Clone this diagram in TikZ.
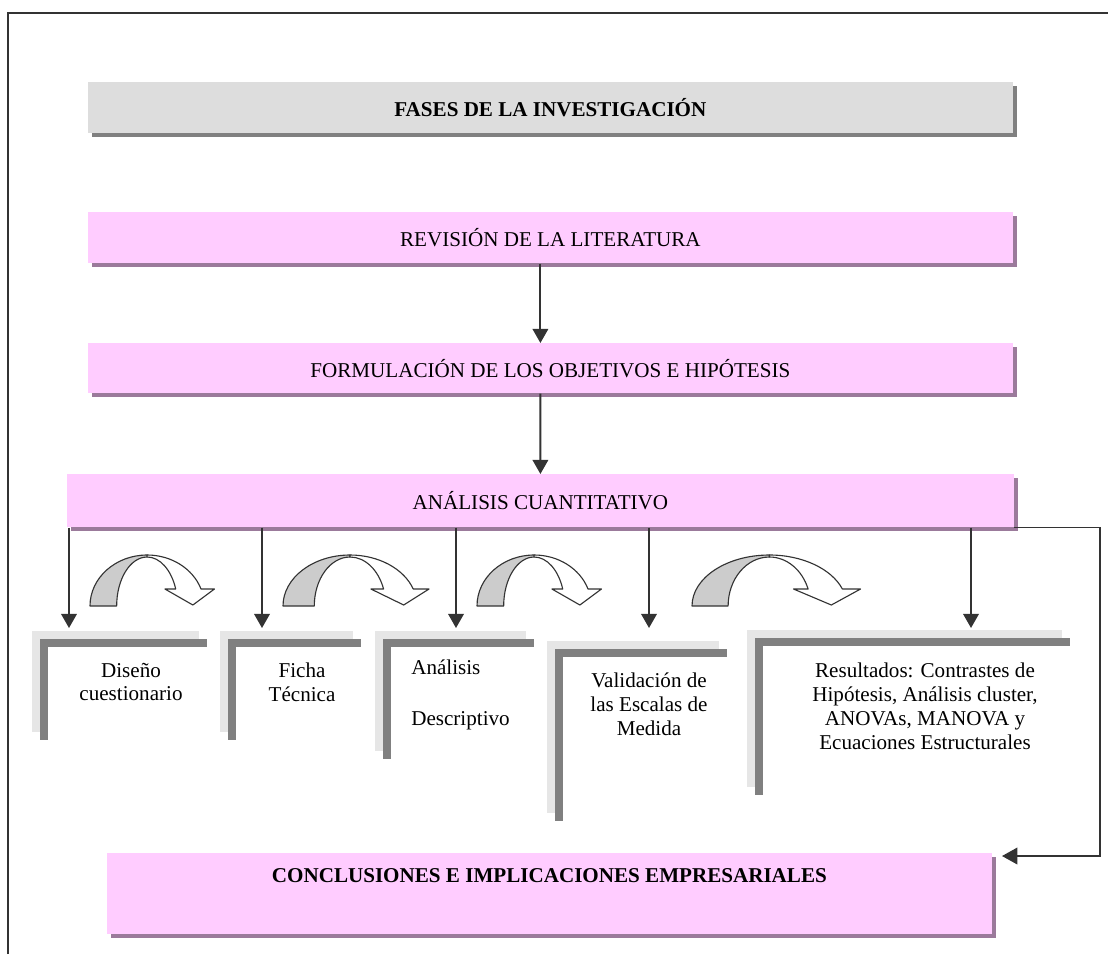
\documentclass[tikz,border=0pt]{standalone}
\usepackage{fontspec}
\setmainfont{Liberation Serif}
\usepackage{tikz}
\usetikzlibrary{arrows.meta,shadows}
\definecolor{rosa}{RGB}{255,204,255}
\definecolor{sombrarosa}{RGB}{155,122,155}
\definecolor{grisfondo}{RGB}{221,221,221}
\definecolor{grissombra}{RGB}{128,128,128}
\definecolor{grisclaro}{RGB}{204,204,204}
\definecolor{grismarco}{RGB}{230,230,230}
\definecolor{trazo}{RGB}{51,51,51}

\begin{document}
\begin{tikzpicture}[x=0.025cm, y=-0.025cm,
  caja/.style={fill=rosa, anchor=north west, inner sep=0pt,
    font=\fontsize{15}{17}\selectfont,
    drop shadow={shadow xshift=0.1cm, shadow yshift=-0.1cm, fill=sombrarosa, opacity=1}},
  cajagris/.style={caja, fill=grisfondo, font=\fontsize{15}{17}\selectfont\bfseries,
    drop shadow={shadow xshift=0.1cm, shadow yshift=-0.1cm, fill=grissombra, opacity=1}},
  texto/.style={align=center, inner sep=0pt, font=\fontsize{15}{17}\selectfont},
  flecha/.style={draw=trazo, line width=1.4pt, -{Triangle[width=11pt,length=10pt]}},
  conector/.style={draw=trazo, line width=0.9pt, -{Triangle[width=12pt,length=11pt]}},
  curva/.style={draw=trazo, line width=0.8pt, line join=round}]

  \useasboundingbox (0,0) rectangle (1108,954);

  % Marco exterior
  \draw[trazo, line width=1.1pt] (8,954) -- (8,13) -- (1108,13);

  % Cajas principales
  \node[cajagris, minimum width=23.1cm, minimum height=1.275cm] (titulo) at (88,82)
    {FASES DE LA INVESTIGACIÓN};
  \node[caja, minimum width=23.1cm, minimum height=1.275cm] (revision) at (88,212)
    {REVISIÓN DE LA LITERATURA};
  \node[caja, minimum width=23.1cm, minimum height=1.25cm] (formulacion) at (88,343)
    {FORMULACIÓN DE LOS OBJETIVOS E HIPÓTESIS};
  \node[caja, minimum width=23.65cm, minimum height=1.325cm] (analisis) at (67,474)
    {ANÁLISIS CUANTITATIVO};
  \node[caja, minimum width=22.1cm, text height=0.725cm, text depth=1.3cm,
    font=\fontsize{15}{17}\selectfont\bfseries] (conclusiones) at (107,853)
    {CONCLUSIONES E IMPLICACIONES EMPRESARIALES};

  % Flechas verticales
  \draw[flecha] ([xshift=-0.25cm]revision.south) -- ([xshift=-0.25cm]formulacion.north);
  \draw[flecha] ([xshift=-0.25cm]formulacion.south) -- (analisis.north);

  % Marcos de las etapas
  \foreach \xa/\ya/\xb/\yb in {32/631/199/732, 220/631/353/732, 375/631/526/751,
                               547/641/719/813, 747/630/1062/787} {
    \fill[grismarco] (\xa,\ya) rectangle (\xb,{\ya+8});
    \fill[grismarco] (\xa,\ya) rectangle ({\xa+8},\yb);
    \fill[grissombra] ({\xa+8},{\ya+8}) rectangle ({\xb+8},{\ya+16});
    \fill[grissombra] ({\xa+8},{\ya+8}) rectangle ({\xa+16},{\yb+8});
  }

  % Etapas
  \node[texto] (diseno) at (131,682) {Diseño\\cuestionario};
  \node[texto] (ficha) at (302,682) {Ficha\\Técnica};
  \node[texto, align=left, anchor=west] (descriptivo) at (411,695)
    {Análisis\\[0.68cm]Descriptivo};
  \node[texto] (validacion) at (649,704) {Validación de\\las Escalas de\\Medida};
  \node[texto] (resultados) at (925,706)
    {Resultados: Contrastes de\\Hipótesis, Análisis cluster,\\ANOVAs, MANOVA y\\Ecuaciones Estructurales};

  % Flechas hacia las etapas
  \coordinate (p1) at (69,628);
  \coordinate (p2) at (262,628);
  \coordinate (p3) at (456,628);
  \coordinate (p4) at (649,628);
  \coordinate (p5) at (971,628);
  \foreach \p in {p1,p2,p3,p4,p5}
    \draw[flecha] (\p |- analisis.south) -- (\p);

  % Flechas curvas entre etapas
  \foreach \xa/\an in {90/127, 283/149, 477/127, 692/172} {
    \pgfmathsetmacro{\cx}{\xa+0.45*\an}
    \filldraw[curva, fill=grisclaro] (\xa,606)
      arc[start angle=180, end angle=270, x radius={0.45*\an}, y radius=51]
      -- ++(0,2)
      arc[start angle=270, end angle=180, x radius={0.24*\an}, y radius=49] -- cycle;
    \filldraw[curva, fill=white] (\cx,555)
      arc[start angle=270, end angle=340.5, x radius={0.45*\an}, y radius=51]
      -- ({\xa+0.98*\an},589) -- ({\xa+0.81*\an},605) -- ({\xa+0.59*\an},589)
      -- ({\xa+0.675*\an},589)
      arc[start angle=339.7, end angle=270, x radius={0.24*\an}, y radius=49] -- cycle;
  }

  % Conector lateral hacia las conclusiones
  \coordinate (esquina) at (1100,856);
  \coordinate (llegada) at (1002,856);
  \draw[conector] (analisis.south east) -| (esquina) -- (llegada);

\end{tikzpicture}
\end{document}
